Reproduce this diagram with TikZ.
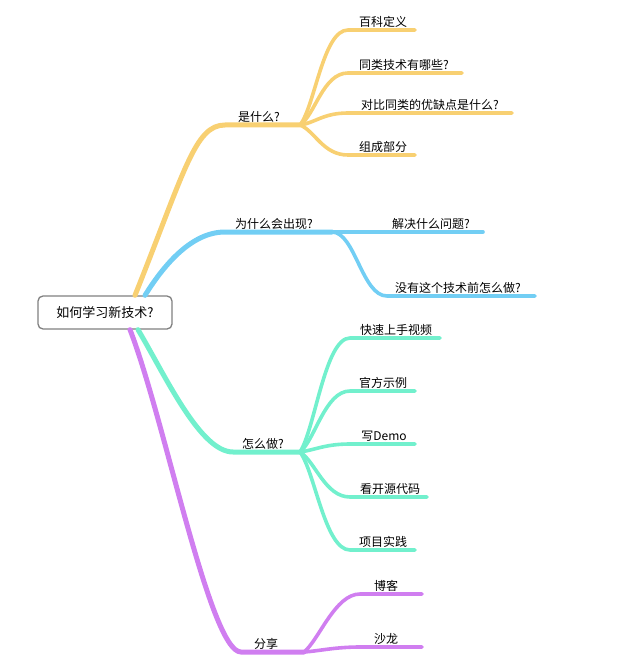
\documentclass[tikz,border=0pt]{standalone}
\usepackage{fontspec}
\newfontfamily\cjk{Noto Sans CJK SC}
\definecolor{cY}{HTML}{F8D072}
\definecolor{cB}{HTML}{72CEF4}
\definecolor{cG}{HTML}{72F0CD}
\definecolor{cP}{HTML}{D07EF0}
\tikzset{
  main/.style={line width=5pt,line cap=round},
  sub/.style={line width=3.6pt,line cap=round},
  lbl/.style={anchor=south,inner sep=2.5pt,font=\cjk\fontsize{12}{12}\selectfont}
}
\begin{document}
\begin{tikzpicture}[x=1pt,y=-1pt]
\useasboundingbox (0,0) rectangle (616,671);
\node[draw=gray,fill=white,rounded corners=5pt,line width=1.3pt,minimum width=134pt,minimum height=33pt,font=\cjk\fontsize{13}{13}\selectfont] (root) at (105,312.5){如何学习新技术?};
\coordinate (ys) at ([xshift=30pt]root.north);
\coordinate (bs) at ([xshift=40pt]root.north);
\coordinate (gs) at ([xshift=33pt]root.south);
\coordinate (ps) at ([xshift=25pt]root.south);
\coordinate (ya) at (225,125);
\coordinate (yh) at (300,125);
\coordinate (ba) at (225,232);
\coordinate (bh) at (332,232);
\coordinate (ga) at (233,452);
\coordinate (gh) at (300,452);
\coordinate (pa) at (241,652);
\coordinate (ph) at (304,652);
\coordinate (y1) at (348,30);  \coordinate (y1e) at (415,30);
\coordinate (y2) at (348,73);  \coordinate (y2e) at (462,73);
\coordinate (y3) at (348,113); \coordinate (y3e) at (512,113);
\coordinate (y4) at (348,155); \coordinate (y4e) at (415,155);
\coordinate (b1) at (380,232); \coordinate (b1e) at (483,232);
\coordinate (b2) at (387,296); \coordinate (b2e) at (535,296);
\coordinate (g1) at (350,338); \coordinate (g1e) at (440,338);
\coordinate (g2) at (350,391); \coordinate (g2e) at (415,391);
\coordinate (g3) at (350,444); \coordinate (g3e) at (415,444);
\coordinate (g4) at (350,497); \coordinate (g4e) at (427,497);
\coordinate (g5) at (350,550); \coordinate (g5e) at (415,550);
\coordinate (p1) at (360,594); \coordinate (p1e) at (422,594);
\coordinate (p2) at (360,647); \coordinate (p2e) at (422,647);
\draw[main,cY] (ys) .. controls (185,170) and (195,125) .. (ya) -- (yh);
\draw[main,cB] (bs) .. controls (162,268) and (190,232) .. (ba) -- (bh);
\draw[main,cG] (gs) .. controls (165,375) and (200,452) .. (ga) -- (gh);
\draw[main,cP] (ps) .. controls (165,420) and (210,652) .. (pa) -- (ph);
\draw[sub,cY] (yh) .. controls (315,106) and (323,30) .. (y1) -- (y1e);
\draw[sub,cY] (yh) .. controls (315,115) and (323,73) .. (y2) -- (y2e);
\draw[sub,cY] (yh) .. controls (315,123) and (323,113) .. (y3) -- (y3e);
\draw[sub,cY] (yh) .. controls (315,131) and (323,155) .. (y4) -- (y4e);
\draw[sub,cB] (bh) -- (b1) -- (b1e);
\draw[sub,cB] (bh) .. controls (355,232) and (362,296) .. (b2) -- (b2e);
\draw[sub,cG] (gh) .. controls (315,429) and (325,338) .. (g1) -- (g1e);
\draw[sub,cG] (gh) .. controls (315,440) and (325,391) .. (g2) -- (g2e);
\draw[sub,cG] (gh) .. controls (315,450) and (325,444) .. (g3) -- (g3e);
\draw[sub,cG] (gh) .. controls (315,461) and (325,497) .. (g4) -- (g4e);
\draw[sub,cG] (gh) .. controls (315,472) and (325,550) .. (g5) -- (g5e);
\draw[sub,cP] (ph) .. controls (319,640) and (335,594) .. (p1) -- (p1e);
\draw[sub,cP] (ph) .. controls (319,651) and (335,647) .. (p2) -- (p2e);
\node[lbl] (what) at (259,125){是什么?};
\node[lbl] (why) at (274,232){为什么会出现?};
\node[lbl] (how) at (263,452){怎么做?};
\node[lbl] (share) at (266,652){分享};
\node[lbl] (wiki) at (383,30){百科定义};
\node[lbl] (alike) at (404,73){同类技术有哪些?};
\node[lbl] (compare) at (430,113){对比同类的优缺点是什么?};
\node[lbl] (parts) at (383,155){组成部分};
\node[lbl] (solve) at (431,232){解决什么问题?};
\node[lbl] (before) at (458,296){没有这个技术前怎么做?};
\node[lbl] (video) at (396,338){快速上手视频};
\node[lbl] (sample) at (383,391){官方示例};
\node[lbl] (demo) at (384,444){写Demo};
\node[lbl] (source) at (390,497){看开源代码};
\node[lbl] (project) at (383,550){项目实践};
\node[lbl] (blog) at (386,594){博客};
\node[lbl] (salon) at (386,647){沙龙};
\end{tikzpicture}
\end{document}
